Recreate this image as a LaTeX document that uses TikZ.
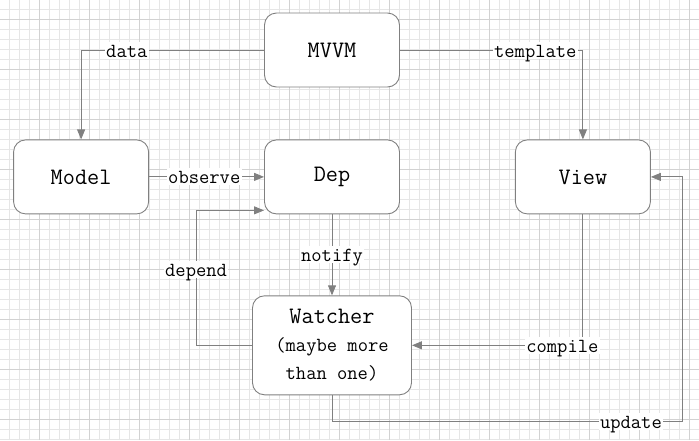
\documentclass[tikz,border=0pt]{standalone}
\usepackage{tikz}
\usetikzlibrary{positioning,arrows.meta,calc}
\definecolor{gridminor}{RGB}{230,230,230}
\definecolor{gridmajor}{RGB}{210,210,210}
\definecolor{edgegray}{RGB}{128,128,128}
\newcommand{\lblfont}{\ttfamily\fontsize{20}{28}\selectfont}

\begin{document}
\begin{tikzpicture}[x=1pt, y=-1pt,
  block/.style={rectangle, rounded corners=12pt, draw=edgegray, line width=0.9pt, fill=white, minimum width=135pt, minimum height=74pt, align=center, font=\ttfamily\fontsize{23.6}{28}\selectfont},
  lbl/.style={fill=white, inner sep=1.5pt, text height=14pt, text depth=0pt, font=\lblfont},
  arr/.style={draw=edgegray, line width=0.9pt, -{Triangle[length=10pt,width=8pt]}}]
\useasboundingbox (0,0) rectangle (699,440);

% Grid
\foreach \x in {9,19,...,699} \draw[gridminor, line width=0.8pt] (\x,0) -- (\x,440);
\foreach \y in {9,19,...,439} \draw[gridminor, line width=0.8pt] (0,\y) -- (699,\y);
\foreach \x in {39,89,...,699} \draw[gridmajor, line width=0.8pt] (\x,0) -- (\x,440);
\foreach \y in {19,69,...,439} \draw[gridmajor, line width=0.8pt] (0,\y) -- (699,\y);

% Blocks
\node [block] (mvvm) at (332,50) {MVVM};
\node [block, below=52pt of mvvm] (dep) {Dep};
\node [block, left=115pt of dep] (model) {Model};
\node [block, right=115pt of dep] (view) {View};
\node [block, below=81pt of dep, minimum width=159pt, minimum height=99pt] (watcher)
{Watcher\\\lblfont(maybe more\\\lblfont than one)};

% Connectors
\draw[arr] (mvvm.west) -| node[lbl, pos=0.375] {data} (model.north);
\draw[arr] (mvvm.east) -| node[lbl, pos=0.37] {template} (view.north);
\draw[arr] (model.east) -- node[lbl, pos=0.48] {observe} (dep.west);
\draw[arr] (dep.south) -- node[lbl] {notify} (watcher.north);
\draw[arr] (watcher.west) -- ++(-56,0) |- node[lbl, pos=0.28] {depend} ($(dep.south west)+(0,-4)$);
\draw[arr] (view.south) |- node[lbl, pos=0.56] {compile} (watcher.east);
\draw[arr] (watcher.south) -- ++(0,26) -| node[lbl, pos=0.426] {update} ($(view.east)+(32,0)$) -- (view.east);
\end{tikzpicture}
\end{document}
